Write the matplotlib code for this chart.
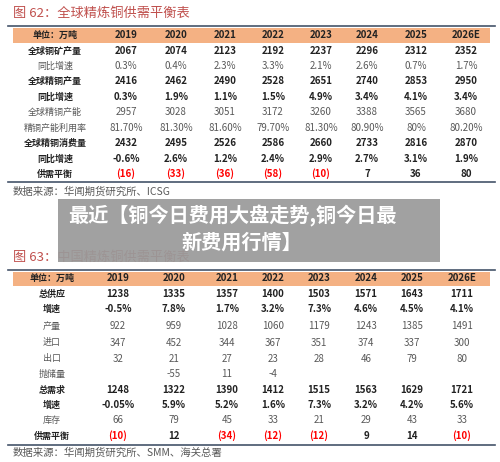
import matplotlib
matplotlib.use("Agg")
import matplotlib.pyplot as plt
from matplotlib.patches import Rectangle

plt.rcParams['font.family'] = ['Noto Sans CJK SC', 'DejaVu Sans']

years = ["2019", "2020", "2021", "2022", "2023", "2024", "2025", "2026E"]

t1_labels = ["全球铜矿产量", "同比增速", "全球精铜产量", "同比增速", "全球精铜产能",
             "精铜产能利用率", "全球精铜消费量", "同比增速", "供需平衡"]
t1_bold = [True, False, True, True, False, False, True, True, True]
mine = ["2067", "2074", "2123", "2192", "2237", "2296", "2312", "2352"]
mine_yoy = ["0.3%", "0.4%", "2.3%", "3.3%", "2.1%", "2.6%", "0.7%", "1.7%"]
refined = ["2416", "2462", "2490", "2528", "2651", "2740", "2853", "2950"]
refined_yoy = ["0.3%", "1.9%", "1.1%", "1.5%", "4.9%", "3.4%", "4.1%", "3.4%"]
capacity = ["2957", "3028", "3051", "3172", "3260", "3388", "3565", "3680"]
util = ["81.70%", "81.30%", "81.60%", "79.70%", "81.30%", "80.90%", "80%", "80.20%"]
consumption = ["2432", "2495", "2526", "2586", "2660", "2733", "2816", "2870"]
cons_yoy = ["-0.6%", "2.6%", "1.2%", "2.4%", "2.9%", "2.7%", "3.1%", "1.9%"]
balance1 = ["(16)", "(33)", "(36)", "(58)", "(10)", "7", "36", "80"]
t1_rows = [mine, mine_yoy, refined, refined_yoy, capacity, util, consumption, cons_yoy, balance1]

t2_labels = ["总供应", "增速", "产量", "进口", "出口", "抛储量", "总需求", "增速", "库存", "供需平衡"]
t2_bold = [True, True, False, False, False, False, True, True, False, True]
supply = ["1238", "1335", "1357", "1400", "1503", "1571", "1643", "1711"]
supply_yoy = ["-0.5%", "7.8%", "1.7%", "3.2%", "7.3%", "4.6%", "4.5%", "4.1%"]
production = ["922", "959", "1028", "1060", "1179", "1243", "1385", "1491"]
imports = ["347", "452", "344", "367", "351", "374", "337", "300"]
exports = ["32", "21", "27", "23", "28", "46", "79", "80"]
reserve = ["", "-55", "11", "-4", "", "", "", ""]
demand = ["1248", "1322", "1390", "1412", "1515", "1563", "1629", "1721"]
demand_yoy = ["-0.05%", "5.9%", "5.2%", "1.6%", "7.3%", "3.2%", "4.2%", "5.6%"]
stock = ["66", "79", "45", "33", "21", "29", "43", "33"]
balance2 = ["(10)", "12", "(34)", "(12)", "(12)", "9", "14", "(10)"]
t2_rows = [supply, supply_yoy, production, imports, exports, reserve, demand, demand_yoy, stock, balance2]

W, H = 500, 462
fig = plt.figure(figsize=(5, 4.62), dpi=100)
ax = fig.add_axes([0, 0, 1, 1])
ax.set_xlim(0, W); ax.set_ylim(H, 0); ax.axis('off')

RED = "#C0504D"; ORANGE = "#F4B183"; LINE = "#44546A"; GRAY = "#595959"

def table(title, ty, line_top, band, hy, row_ys, label_x, col_xs, labels, bolds, rows, line_bot, src, sy):
    ax.text(13, ty, title, color=RED, fontsize=9.5, va='center', ha='left')
    ax.plot([8, 495], [line_top, line_top], color=LINE, lw=1.2)
    ax.add_patch(Rectangle((13, band[0]), 477, band[1] - band[0], color=ORANGE, lw=0))
    ax.text(label_x, hy, "单位：万吨", fontsize=6.5, weight='bold', ha='center', va='center', color="#222")
    for x, yv in zip(col_xs, years):
        ax.text(x, hy, yv, fontsize=7, weight='bold', ha='center', va='center', color="#222")
    for y, lab, b, vals in zip(row_ys, labels, bolds, rows):
        ax.text(label_x, y, lab, fontsize=6.5, weight='bold' if b else 'normal',
                ha='center', va='center', color="#222" if b else GRAY)
        for x, v in zip(col_xs, vals):
            neg = v.startswith("(")
            ax.text(x, y, v, fontsize=7, weight='bold' if b else 'normal', ha='center', va='center',
                    color="red" if neg else ("#222" if b else GRAY))
    ax.plot([8, 495], [line_bot, line_bot], color=LINE, lw=1.2)
    ax.text(13, sy, src, fontsize=7.5, color=GRAY, ha='left', va='center')

table("图 62：全球精炼铜供需平衡表", 13, 26, (28, 43), 35,
      [51, 66, 81, 97, 112, 128, 143, 159, 174], 55,
      [126, 176, 225, 273, 321, 367, 416, 466], t1_labels, t1_bold, t1_rows, 182,
      "数据来源：华闻期货研究所、ICSG", 192)

table("图 63：中国精炼铜供需平衡表", 257, 270, (272, 286), 278,
      [294, 309, 326, 343, 359, 374, 390, 405, 420, 436], 52,
      [118, 174, 227, 273, 319, 366, 412, 462], t2_labels, t2_bold, t2_rows, 445,
      "数据来源：华闻期货研究所、SMM、海关总署", 453)

ax.add_patch(Rectangle((58, 199), 382, 63, color="#9a9a9a", alpha=0.93, lw=0, zorder=5))
ax.text(68, 216, "最近【铜今日费用大盘走势,铜今日最", fontsize=14.5, weight='bold', color='white',
        ha='left', va='center', zorder=6)
ax.text(181, 242, "新费用行情】", fontsize=14.5, weight='bold', color='white',
        ha='left', va='center', zorder=6)

fig.savefig("out.png", dpi=100, facecolor='white')
